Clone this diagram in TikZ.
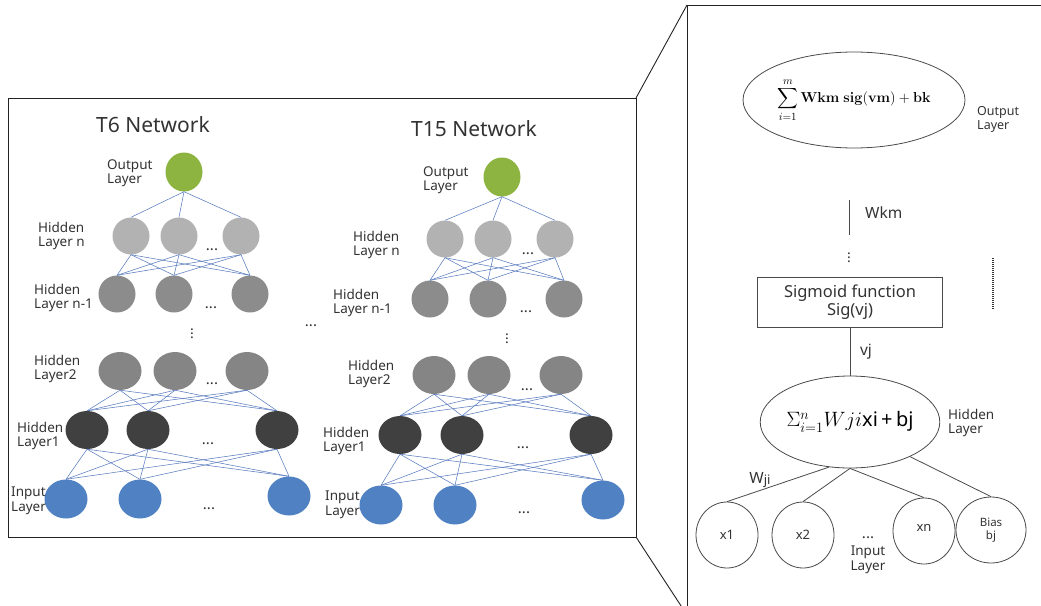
\documentclass[tikz,border=0pt]{standalone}
\usepackage{amsmath}
\usepackage[no-math]{fontspec}
\setmainfont{Noto Sans}
\usetikzlibrary{positioning,shapes.geometric}
\definecolor{txtgrey}{HTML}{333333}
\definecolor{framedark}{HTML}{222222}
\definecolor{edgeblue}{HTML}{5B7DBF}
\definecolor{outgreen}{HTML}{8DB441}
\definecolor{greyn}{HTML}{B2B2B2}
\definecolor{greym}{HTML}{8C8C8C}
\definecolor{greytwo}{HTML}{858585}
\definecolor{greyone}{HTML}{404040}
\definecolor{inblue}{HTML}{4F81C3}
\definecolor{wireline}{HTML}{4A4A4A}

\begin{document}
\begin{tikzpicture}[
  x=1pt, y=1pt,
  % a neuron of the two small networks
  neuron/.style={ellipse, draw=none, inner sep=0, minimum width=37pt,
                 minimum height=37pt},
  outnode/.style={neuron, fill=outgreen, minimum height=39pt},
  hidn/.style={neuron, fill=greyn},
  hidm/.style={neuron, fill=greym},
  hidb/.style={neuron, fill=greytwo, minimum width=43pt, minimum height=38pt},
  hida/.style={neuron, fill=greyone, minimum width=43pt, minimum height=38pt},
  innode/.style={neuron, fill=inblue, minimum width=43pt, minimum height=39pt},
  edge/.style={draw=edgeblue, line width=0.55pt},
  lyr/.style={anchor=west, align=left, inner sep=0, text=txtgrey,
              font=\fontsize{13.5}{14.5}\selectfont},
  ttl/.style={text=txtgrey, font=\fontsize{21}{24}\selectfont},
  hdots/.style={text=txtgrey, inner sep=0, font=\fontsize{15}{15}\selectfont\bfseries},
  vdot/.style={text=txtgrey, inner sep=0, font=\fontsize{14}{14}\selectfont\boldmath},
  frame/.style={draw=framedark, line width=0.9pt, inner sep=0, outer sep=0,
                anchor=north west},
  % the zoomed neuron on the right
  bigcell/.style={ellipse, draw=wireline, line width=0.8pt, inner sep=0},
  incell/.style={ellipse, draw=wireline, line width=0.8pt, inner sep=0,
                 minimum width=62pt, minimum height=66pt, text=txtgrey,
                 font=\fontsize{13}{14}\selectfont},
  wire/.style={draw=wireline, line width=0.8pt},
  wlbl/.style={text=txtgrey, inner sep=0, font=\fontsize{15.5}{17}\selectfont}
]
\useasboundingbox (0,0) rectangle (1041,-605);

% ══ frames and the zoom lines between them ═════════════════════════════════
\node[frame, minimum width=628pt, minimum height=439pt] (lbox) at (8,-98) {};
\node[frame, minimum width=370pt, minimum height=610pt] (rbox) at (687,-5) {};
\draw[frame] (lbox.north east) -- (rbox.north west);
\draw[frame] (lbox.south east) -- (rbox.south west);

% ══ titles ═════════════════════════════════════════════════════════════════
\node[ttl] (t6-title) at (153,-125) {T6 Network};
\node[ttl] (t15-title) at (474,-129) {T15 Network};

% ══ neurons ════════════════════════════════════════════════════════════════
\node[outnode] (t6-o) at (184,-172) {};
\node[outnode] (t15-o) at (502,-177) {};
\foreach \nm/\px/\py in {t6-n1/131/-236, t6-n2/179/-236, t6-n3/241/-236,
                         t15-n1/445/-239, t15-n2/493/-239, t15-n3/555/-239}{
  \node[hidn] (\nm) at (\px,\py) {};
}
\foreach \nm/\px/\py in {t6-m1/117/-294, t6-m2/174/-294, t6-m3/250/-294,
                         t15-m1/430/-299, t15-m2/488/-299, t15-m3/564/-299}{
  \node[hidm] (\nm) at (\px,\py) {};
}
\foreach \nm/\px/\py in {t6-b1/120/-371, t6-b2/175/-371, t6-b3/247/-371,
                         t15-b1/434/-375, t15-b2/489/-375, t15-b3/561/-375}{
  \node[hidb] (\nm) at (\px,\py) {};
}
\foreach \nm/\px/\py in {t6-a1/87/-430, t6-a2/148/-430, t6-a3/277/-430,
                         t15-a1/400/-435, t15-a2/462/-435, t15-a3/591/-435}{
  \node[hida] (\nm) at (\px,\py) {};
}
\foreach \nm/\px/\py in {t6-i1/66/-499, t6-i2/140/-499, t6-i3/289/-496,
                         t15-i1/381/-505, t15-i2/455/-505, t15-i3/603/-500}{
  \node[innode] (\nm) at (\px,\py) {};
}

% ══ weights: output fan-out, then full meshes ═════════════════════════════
\foreach \net in {t6,t15}{
  \foreach \k in {1,2,3}{
    \draw[edge] (\net-o.south) -- (\net-n\k.north);
  }
  \foreach \up/\dn in {n/m, b/a, a/i}{
    \foreach \j in {1,2,3}{
      \foreach \k in {1,2,3}{
        \draw[edge] (\net-\up\j.south) -- (\net-\dn\k.north);
      }
    }
  }
}

% ══ layer labels ═══════════════════════════════════════════════════════════
\node[lyr] (t6-lo) at (107,-173) {Output\\Layer};
\node[lyr] (t6-ln) at (38,-236) {Hidden\\Layer n};
\node[lyr] (t6-lm) at (34,-298) {Hidden\\Layer n-1};
\node[lyr] (t6-lb) at (34,-369) {Hidden\\Layer2};
\node[lyr] (t6-la) at (17,-436) {Hidden\\Layer1};
\node[lyr] (t6-li) at (11,-501) {Input\\Layer};
\node[lyr] (t15-lo) at (423,-180) {Output\\Layer};
\node[lyr] (t15-ln) at (353,-245) {Hidden\\Layer n};
\node[lyr] (t15-lm) at (333,-303) {Hidden\\Layer n-1};
\node[lyr] (t15-lb) at (348,-374) {Hidden\\Layer2};
\node[lyr] (t15-la) at (323,-441) {Hidden\\Layer1};
\node[lyr] (t15-li) at (325,-505) {Input\\Layer};

% ══ ellipses ═══════════════════════════════════════════════════════════════
\foreach \nm/\px/\py in {t6-dn/212/-250, t6-dm/211/-308, t6-db/212/-384,
                         t6-da/208/-444, t6-di/209/-509, t6-dmid/311/-326,
                         t15-dn/528/-254, t15-dm/526/-312, t15-db/527/-390,
                         t15-da/523/-448, t15-di/524/-513}{
  \node[hdots] (\nm) at (\px,\py) {...};
}
\node[vdot] (t6-vd) at (192,-331) {$\vdots$};
\node[vdot] (t15-vd) at (507,-336) {$\vdots$};

% ══ one neuron, zoomed ═════════════════════════════════════════════════════
% trailing \hspace: the formula sits left of the ellipse centre
\node[bigcell, minimum width=222pt, minimum height=96pt] (osum) at (854,-100)
  {\fontsize{15.5}{20}\selectfont$\displaystyle\sum_{i=1}^{m}\mathbf{Wkm\ sig(vm)+bk}$\hspace{44pt}};
\node[lyr, font=\fontsize{12.5}{14}\selectfont] (olbl) at (977,-119) {Output\\Layer};

\coordinate (wkmtop) at (849,-200);
\coordinate (wkmbot) at (849,-235);
\draw[wire] (wkmtop) -- (wkmbot);
\node[wlbl, anchor=west] (wkm) at (865,-213) {Wkm};
\node[vdot] (rvd) at (849,-255) {$\vdots$};

\node[draw=wireline, line width=0.8pt, minimum width=185pt, minimum height=50pt,
      align=center, inner sep=0, text=txtgrey,
      font=\fontsize{16.5}{18}\selectfont] (sig) at (850,-302)
  {Sigmoid function\\Sig(vj)};
\coordinate (dtop) at (993,-258);
\coordinate (dbot) at (993,-310);
\draw[draw=txtgrey, line width=2pt, dash pattern=on 1pt off 1pt] (dtop) -- (dbot);

\node[bigcell, minimum width=170pt, minimum height=92pt] (hsum) at (850,-422)
  {\fontsize{20}{22}\selectfont$\Sigma_{i=1}^{n}Wji$xi\,+\,bj};
\draw[wire] (sig.south) -- (hsum.north);
\node[wlbl] (vj) at (866,-352) {vj};
\node[lyr, font=\fontsize{13.5}{14.5}\selectfont] (hlbl) at (948,-423) {Hidden\\Layer};

\node[incell] (x1) at (727,-535) {x1};
\node[incell] (x2) at (803,-535) {x2};
\node[incell] (xn) at (924,-531) {\raisebox{6pt}{xn}};
\node[incell, minimum width=70pt, align=center,
      font=\fontsize{11.5}{13.5}\selectfont] (bias) at (991,-530) {Bias\\bj};
\draw[wire] (hsum.-115) -- (x1.north);
\draw[wire] (hsum.south) -- (x2.north);
\draw[wire] (hsum.south) -- (xn.north);
\draw[wire] (hsum.-30) -- (bias.north);
\node[wlbl] (wji) at (760,-480) {W\raisebox{-1pt}{\fontsize{13}{14}\selectfont ji}};
\node[hdots] (rdots) at (868,-538) {...};
\node[lyr, align=center, anchor=center, font=\fontsize{13.5}{14.5}\selectfont] (ilbl)
  at (868,-560) {Input\\Layer};

\end{tikzpicture}
\end{document}
